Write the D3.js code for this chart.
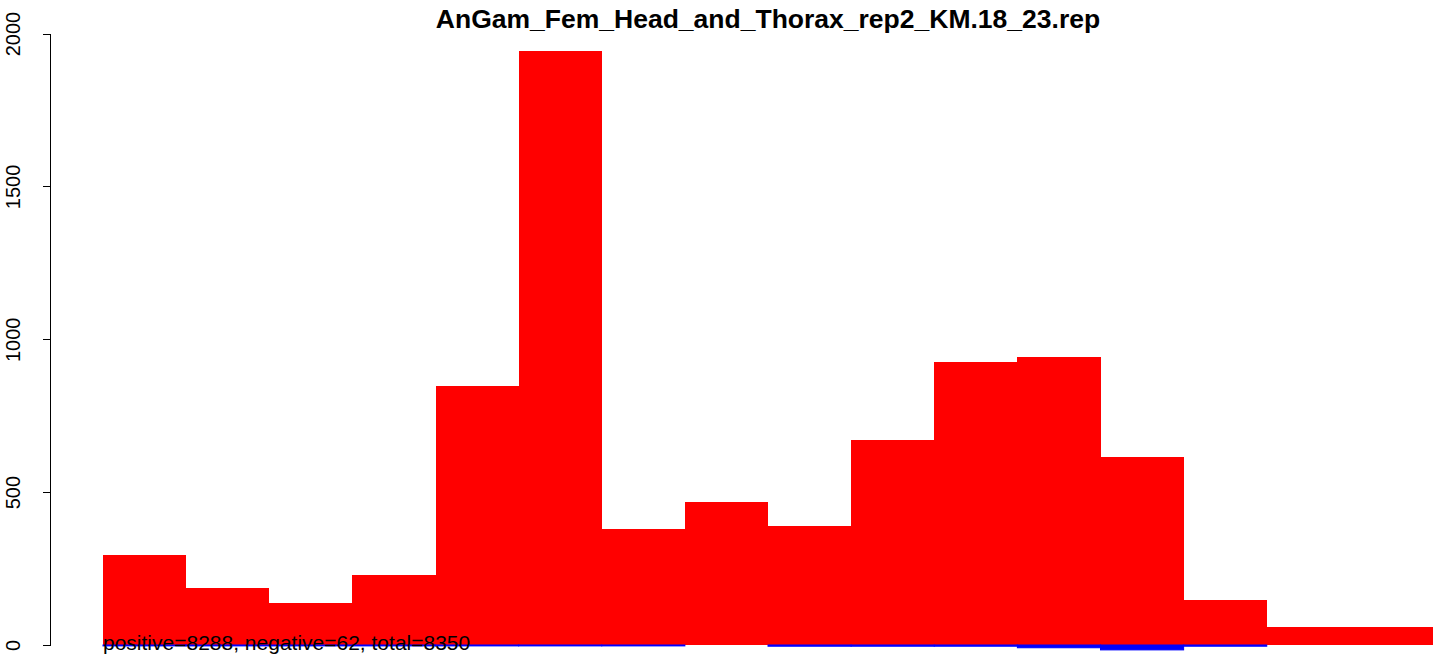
<!DOCTYPE html>
<html>
<head>
<meta charset="utf-8">
<script src="https://cdn.jsdelivr.net/npm/d3@7"></script>
<style>
  html, body { margin: 0; padding: 0; background: #fff; }
  svg { display: block; }
  text { font-family: "Liberation Sans", Arial, Helvetica, sans-serif; }
</style>
</head>
<body>
<svg id="chart" width="1449" height="655"></svg>
<script>
// ---- data ----
const chartTitle = "AnGam_Fem_Head_and_Thorax_rep2_KM.18_23.rep";
const bins = ["1","2","3","4","5","6","7","8","9","10","11","12","13","14","15","16"];
const positiveCounts = [293, 185, 137, 229, 847, 1944, 379, 468, 390, 670, 926, 942, 615, 147, 58, 58];
const negativeCounts = [3, 3, 3, 3, 3, 3, 3, 0, 4, 4, 4, 9, 16, 4, 0, 0];
const yTicks = [0, 500, 1000, 1500, 2000];

// ---- layout ----
const svg = d3.select("#chart");
const x = d3.scaleBand().domain(bins).range([103, 1433]).padding(0);
const y = d3.scaleLinear().domain([0, 2000]).range([645, 33.5]);
const axisX = 50;

// positive bars (red)
svg.append("g").selectAll("rect").data(bins).join("rect")
  .attr("x", d => x(d))
  .attr("width", x.bandwidth())
  .attr("y", (d, i) => y(positiveCounts[i]))
  .attr("height", (d, i) => y(0) - y(positiveCounts[i]))
  .attr("fill", "#ff0000")
  .attr("shape-rendering", "crispEdges");

// negative bars (blue), drawn below zero
svg.append("g").selectAll("rect").data(bins).join("rect")
  .attr("x", d => x(d))
  .attr("width", x.bandwidth())
  .attr("y", y(0))
  .attr("height", (d, i) => y(-negativeCounts[i]) - y(0))
  .attr("fill", "#0000ff")
  .attr("stroke", "#0000ff")
  .attr("stroke-width", 1);

// y axis
const yAxis = d3.axisLeft(y).tickValues(yTicks).tickSize(7).tickSizeOuter(0).tickFormat(d3.format("d"));
const gy = svg.append("g").attr("transform", `translate(${axisX},0)`).call(yAxis);
gy.select(".domain").attr("stroke", "#000").attr("shape-rendering", "crispEdges");
gy.selectAll(".tick line").attr("stroke", "#000").attr("shape-rendering", "crispEdges");
gy.selectAll(".tick text")
  .attr("x", 0).attr("y", 0).attr("dy", 0)
  .attr("transform", "translate(-30,0) rotate(-90)")
  .attr("text-anchor", "middle")
  .attr("fill", "#000")
  .style("font-size", "20px");

// title
svg.append("text")
  .attr("x", 768).attr("y", 28)
  .attr("text-anchor", "middle")
  .style("font-size", "26.5px").style("font-weight", "bold")
  .attr("fill", "#000")
  .text(chartTitle);

// summary text
const pos = d3.sum(positiveCounts), neg = d3.sum(negativeCounts);
svg.append("text")
  .attr("x", x(bins[0])).attr("y", 649.5)
  .style("font-size", "21px")
  .attr("fill", "#000")
  .text(`positive=${pos}, negative=${neg}, total=${pos + neg}`);
</script>
</body>
</html>
